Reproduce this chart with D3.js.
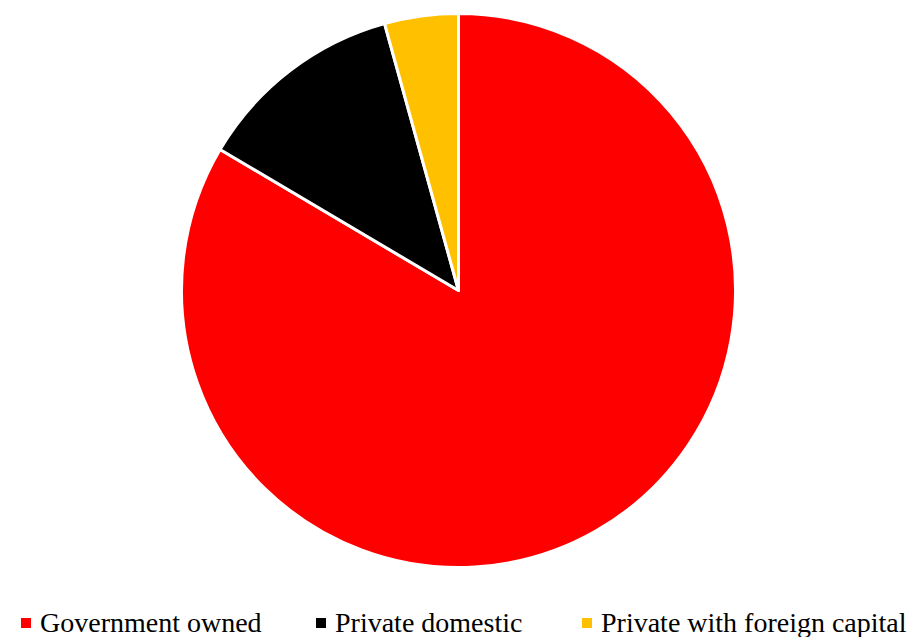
<!DOCTYPE html>
<html>
<head>
<meta charset="utf-8">
<script src="https://cdn.jsdelivr.net/npm/d3@7"></script>
<style>
  body { margin: 0; background: #fff; }
</style>
</head>
<body>
<div id="chart"></div>
<script>
// 数据
const categories = ["Government owned", "Private domestic", "Private with foreign capital"];
const shares = [83.5, 12.2, 4.3];
const colors = ["#FF0000", "#000000", "#FFC000"];

const width = 916, height = 637;
const cx = 458.5, cy = 290.5, radius = 277;

const svg = d3.select("#chart")
    .append("svg")
    .attr("width", width)
    .attr("height", height);

const data = categories.map((c, i) => ({ name: c, value: shares[i], color: colors[i] }));

// 饼图
const pie = d3.pie().sort(null).value(d => d.value);
const arc = d3.arc().innerRadius(0).outerRadius(radius);

svg.append("g")
    .attr("transform", `translate(${cx},${cy})`)
    .selectAll("path")
    .data(pie(data))
    .enter()
    .append("path")
    .attr("d", arc)
    .attr("fill", d => d.data.color)
    .attr("stroke", "#fff")
    .attr("stroke-width", 3)
    .attr("stroke-linejoin", "round");

// 图例
const legendX = [21, 316, 582];
const legend = svg.append("g").attr("transform", "translate(0,632)");

data.forEach((d, i) => {
    legend.append("rect")
        .attr("x", legendX[i])
        .attr("y", -14)
        .attr("width", 10)
        .attr("height", 10)
        .attr("fill", d.color);
    legend.append("text")
        .attr("x", legendX[i] + 19)
        .attr("y", 0)
        .style("font-family", "'Liberation Serif', serif")
        .style("font-size", "28px")
        .style("fill", "#000")
        .text(d.name);
});
</script>
</body>
</html>
